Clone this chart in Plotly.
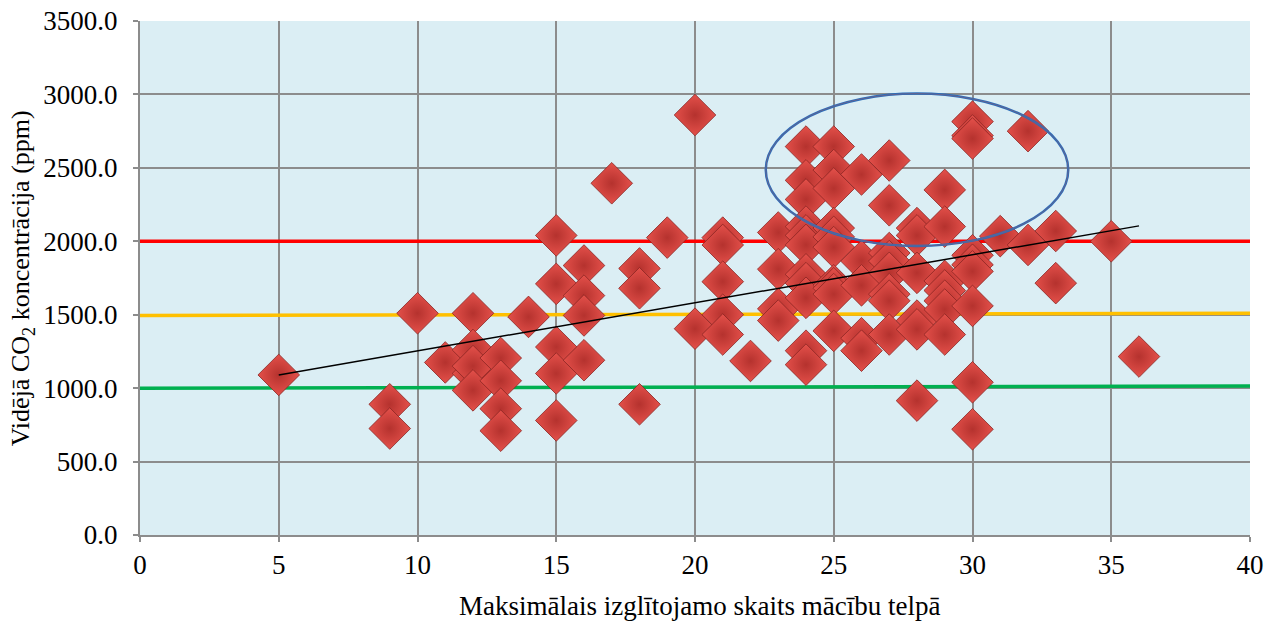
import plotly.graph_objects as go

# Data: max students (x) vs average CO2 concentration (ppm)
students = (
    [5] + [9] * 2 + [10] + [11] + [12] * 5 + [13] * 4 + [14] + [15] * 5 + [16] * 4 + [17] + [18] * 3 + [19]
    + [20] * 2 + [21] * 5 + [22] + [23] * 4 + [24] * 11 + [25] * 10 + [26] * 5 + [27] * 8 + [28] * 6
    + [29] * 7 + [30] * 9 + [31] + [32] * 2 + [33] * 2 + [35] + [36]
)
co2 = [
    1090,
    890, 725,
    1510,
    1175,
    1510, 1260, 1100, 1150, 985,
    1205, 1050, 860, 710,
    1485,
    2040, 1710, 1280, 1100, 780,
    1835, 1630, 1495, 1190,
    2395,
    1815, 1680, 890,
    2025,
    2860, 1405,
    2025, 1975, 1725, 1500, 1365,
    1185,
    2060, 1810, 1540, 1460,
    2645, 2415, 2285, 2100, 2040, 1975, 1775, 1715, 1615, 1255, 1160,
    2645, 2485, 2360, 2090, 2030, 1960, 1700, 1680, 1640, 1390,
    2455, 1865, 1700, 1340, 1255,
    2550, 2245, 1920, 1865, 1785, 1640, 1595, 1365,
    2090, 2040, 1785, 1460, 1400, 915,
    2350, 2100, 1730, 1665, 1595, 1535, 1365,
    2815, 2720, 2700, 1905, 1840, 1795, 1560, 1040, 720,
    2035,
    2750, 1975,
    2070, 1715,
    2000,
    1215,
]

trend_x = [5, 36]
trend_y = [1090, 2105]

limit_x = [0, 40]
limit_red = [2000, 2000]
limit_orange = [1495, 1510]
limit_green = [1000, 1015]

ellipse_x = [22.55, 33.45]
ellipse_y = [1968, 3006]

x_ticks = [0, 5, 10, 15, 20, 25, 30, 35, 40]
y_ticks = [0, 500, 1000, 1500, 2000, 2500, 3000, 3500]

x_title = "Maksimālais izglītojamo skaits mācību telpā"
y_title = "Vidējā CO<sub>2</sub> koncentrācija (ppm)"

font_family = "Liberation Serif, Times New Roman, serif"
FS = 27

fig = go.Figure()

for vals, col in [(limit_green, "#00B050"), (limit_orange, "#FFC000"), (limit_red, "#FF0000")]:
    fig.add_trace(go.Scatter(x=limit_x, y=vals, mode="lines",
                             line=dict(color=col, width=3.5), hoverinfo="skip", showlegend=False))

fig.add_trace(go.Scatter(
    x=students, y=co2, mode="markers", showlegend=False,
    marker=dict(symbol="diamond", size=32, color="#E4504A",
                gradient=dict(type="radial", color="#B5322E"),
                line=dict(color="#8A2422", width=0.8)),
))

fig.add_trace(go.Scatter(x=trend_x, y=trend_y, mode="lines",
                         line=dict(color="black", width=1.5), showlegend=False, hoverinfo="skip"))

fig.add_shape(type="circle", xref="x", yref="y",
              x0=ellipse_x[0], x1=ellipse_x[1], y0=ellipse_y[0], y1=ellipse_y[1],
              line=dict(color="#2A6EBB", width=2.5))
fig.add_shape(type="circle", xref="x", yref="y",
              x0=ellipse_x[0], x1=ellipse_x[1], y0=ellipse_y[0], y1=ellipse_y[1],
              line=dict(color="#C0504D", width=0.4))

fig.add_annotation(text=x_title, xref="paper", yref="paper", x=0.5045, y=-0.138,
                   xanchor="center", yanchor="middle", showarrow=False,
                   font=dict(size=FS))
fig.add_annotation(text=y_title, xref="paper", yref="paper", x=-0.106, y=0.5,
                   xanchor="center", yanchor="middle", showarrow=False, textangle=-90,
                   font=dict(size=26))

fig.update_layout(
    width=1268, height=621,
    margin=dict(l=140, r=18, t=21, b=86),
    paper_bgcolor="white", plot_bgcolor="#DBEEF4",
    font=dict(family=font_family, size=FS, color="black"),
)
fig.update_xaxes(
    range=[0, 40], tickvals=x_ticks, ticktext=[str(v) for v in x_ticks],
    showgrid=True, gridcolor="#8C8C8C", gridwidth=2,
    showline=True, linecolor="#8C8C8C", linewidth=2,
    ticks="outside", ticklen=5, tickcolor="#8C8C8C", tickwidth=2,
    zeroline=False, automargin=False,
)
fig.update_yaxes(
    range=[0, 3500], tickvals=y_ticks, ticktext=[f"{v:.1f}" for v in y_ticks],
    showgrid=True, gridcolor="#8C8C8C", gridwidth=2,
    showline=True, linecolor="#8C8C8C", linewidth=2,
    ticks="outside", ticklen=5, tickcolor="#8C8C8C", tickwidth=2,
    zeroline=False, automargin=False, ticklabelstandoff=10,
)

fig.write_html("out.html", config={"displayModeBar": False},
               post_script="document.body.style.margin='0';document.body.style.overflow='hidden';")
